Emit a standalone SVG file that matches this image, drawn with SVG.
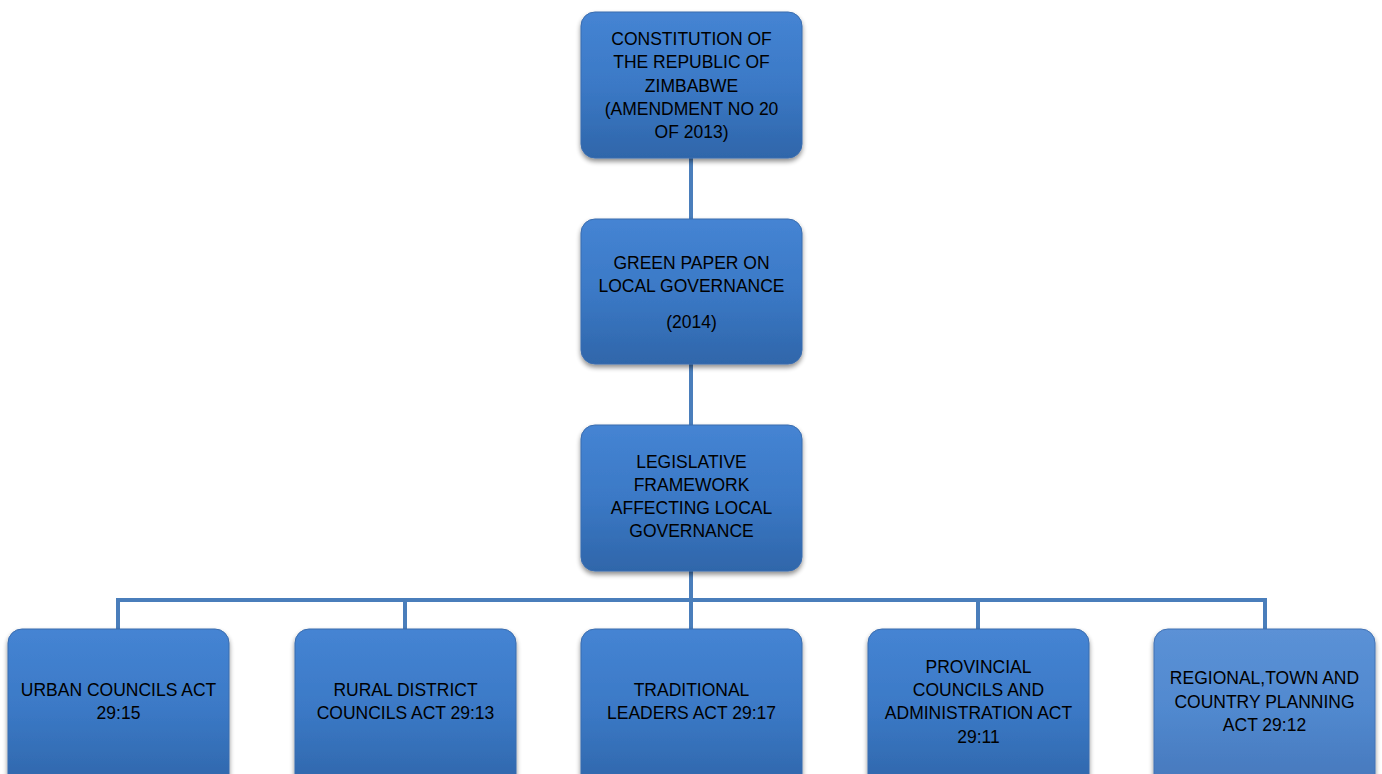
<svg xmlns="http://www.w3.org/2000/svg" width="1382" height="774" viewBox="0 0 1382 774">
<defs>
<linearGradient id="g" x1="0" y1="0" x2="0" y2="1">
<stop offset="0" stop-color="#4584d3"/>
<stop offset="0.5" stop-color="#3b79c6"/>
<stop offset="1" stop-color="#2f66aa"/>
</linearGradient>
<linearGradient id="g2" x1="0" y1="0" x2="0" y2="1">
<stop offset="0" stop-color="#5b91d6"/>
<stop offset="0.5" stop-color="#5189cf"/>
<stop offset="1" stop-color="#4677bb"/>
</linearGradient>
<filter id="sh" x="-10%" y="-10%" width="120%" height="130%">
<feGaussianBlur in="SourceAlpha" stdDeviation="2.5"/>
<feOffset dx="0" dy="3" result="b"/>
<feComponentTransfer><feFuncA type="linear" slope="0.45"/></feComponentTransfer>
<feMerge><feMergeNode/><feMergeNode in="SourceGraphic"/></feMerge>
</filter>
</defs>
<style>
.box{fill:url(#g);stroke:#3a6cae;stroke-width:1;filter:url(#sh)}
.box2{fill:url(#g2);stroke:#4272b4;stroke-width:1;filter:url(#sh)}
.t{font-family:"Liberation Sans",Arial,sans-serif;font-size:17.5px;fill:#000;text-anchor:middle}
.c{stroke:#4a7ebb;stroke-width:4;fill:none}
</style>
<rect width="1382" height="774" fill="#fff"/>
<g id="connectors">
<line class="c" x1="691" y1="158" x2="691" y2="219"/>
<line class="c" x1="691" y1="364" x2="691" y2="425"/>
<line class="c" x1="691" y1="571" x2="691" y2="629"/>
<polyline class="c" points="118,629 118,600 1265,600 1265,629"/>
<line class="c" x1="405" y1="600" x2="405" y2="629"/>
<line class="c" x1="978" y1="600" x2="978" y2="629"/>
</g>
<g id="n1">
<rect class="box" x="581" y="12" width="221" height="146" rx="14"/>
<text class="t"><tspan x="691.5" y="45">CONSTITUTION OF</tspan><tspan x="691.5" y="68">THE REPUBLIC OF</tspan><tspan x="691.5" y="92">ZIMBABWE</tspan><tspan x="691.5" y="115">(AMENDMENT NO 20</tspan><tspan x="691.5" y="138">OF 2013)</tspan></text>
</g>
<g id="n2">
<rect class="box" x="581" y="219" width="221" height="145" rx="14"/>
<text class="t"><tspan x="691.5" y="269">GREEN PAPER ON</tspan><tspan x="691.5" y="292">LOCAL GOVERNANCE</tspan><tspan x="691.5" y="328">(2014)</tspan></text>
</g>
<g id="n3">
<rect class="box" x="581" y="425" width="221" height="146" rx="14"/>
<text class="t"><tspan x="691.5" y="468">LEGISLATIVE</tspan><tspan x="691.5" y="491">FRAMEWORK</tspan><tspan x="691.5" y="514">AFFECTING LOCAL</tspan><tspan x="691.5" y="537">GOVERNANCE</tspan></text>
</g>
<g id="n4">
<rect class="box" x="8" y="629" width="221" height="160" rx="14"/>
<text class="t"><tspan x="118.5" y="696">URBAN COUNCILS ACT</tspan><tspan x="118.5" y="719">29:15</tspan></text>
</g>
<g id="n5">
<rect class="box" x="295" y="629" width="221" height="160" rx="14"/>
<text class="t"><tspan x="405.5" y="696">RURAL DISTRICT</tspan><tspan x="405.5" y="719">COUNCILS ACT 29:13</tspan></text>
</g>
<g id="n6">
<rect class="box" x="581" y="629" width="221" height="160" rx="14"/>
<text class="t"><tspan x="691.5" y="696">TRADITIONAL</tspan><tspan x="691.5" y="719">LEADERS ACT 29:17</tspan></text>
</g>
<g id="n7">
<rect class="box" x="868" y="629" width="221" height="160" rx="14"/>
<text class="t"><tspan x="978.5" y="673">PROVINCIAL</tspan><tspan x="978.5" y="696">COUNCILS AND</tspan><tspan x="978.5" y="719">ADMINISTRATION ACT</tspan><tspan x="978.5" y="743">29:11</tspan></text>
</g>
<g id="n8">
<rect class="box2" x="1154" y="629" width="221" height="160" rx="14"/>
<text class="t"><tspan x="1264.5" y="684">REGIONAL,TOWN AND</tspan><tspan x="1264.5" y="708">COUNTRY PLANNING</tspan><tspan x="1264.5" y="731">ACT 29:12</tspan></text>
</g>
</svg>
